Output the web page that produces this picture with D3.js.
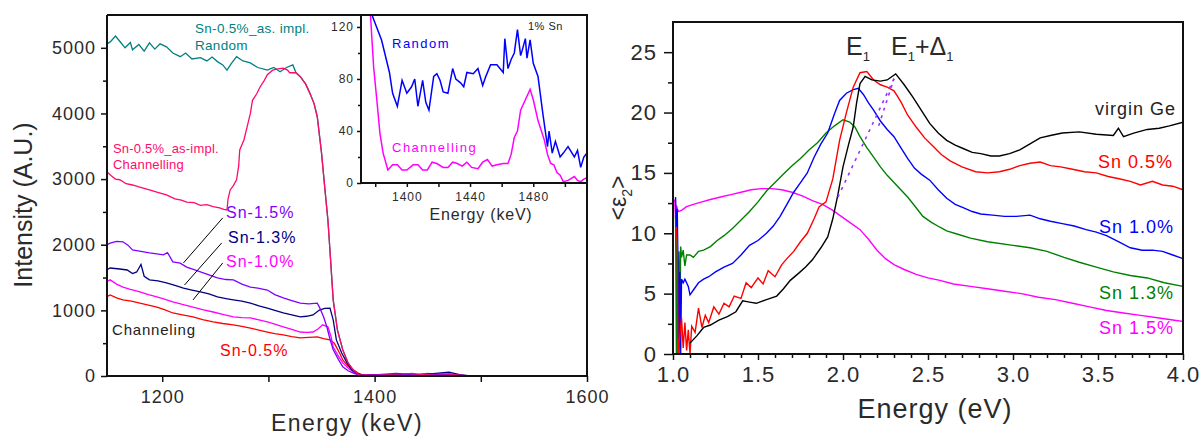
<!DOCTYPE html>
<html>
<head>
<meta charset="utf-8">
<script src="https://cdn.jsdelivr.net/npm/d3@7"></script>
<style>
body{margin:0;background:#fff}
svg text{font-family:Arial,"Liberation Sans",sans-serif}
</style>
</head>
<body>
<svg id="chart" width="1200" height="437"></svg>
<script>
// ---- left panel: RBS spectra, [energy keV, counts] ----
var randomAsImpl = [[1148,5060],[1151,5090],[1156,5180],[1160,5100],[1165,5000],[1170,5080],[1172,4970],[1178,5050],[1183,4950],[1188,5075],[1193,4980],[1198,5060],[1204,5015],[1210,4920],[1217,4865],[1222,4920],[1228,4830],[1236,4850],[1242,4800],[1247,4860],[1252,4790],[1257,4740],[1261,4660],[1265,4760],[1270,4865],[1276,4800],[1283,4770],[1290,4700],[1299,4660],[1305,4700],[1311,4635],[1317,4700],[1323,4740],[1326,4620],[1330,4560],[1335,4450],[1339,4310],[1343,4150],[1346,3950],[1350,3400],[1353,2880],[1356,2380],[1358,1900],[1361,1160],[1365,700],[1370,400],[1375,200],[1380,90],[1386,15],[1395,10],[1410,20],[1420,5],[1430,30],[1440,15],[1450,40],[1460,20],[1470,35],[1480,10],[1492,0]]
var channAsImpl = [[1148,3110],[1152,3050],[1156,3000],[1160,2990],[1166,2930],[1172,2910],[1178,2880],[1183,2860],[1188,2835],[1195,2800],[1204,2760],[1212,2700],[1218,2680],[1223,2650],[1230,2640],[1236,2600],[1242,2610],[1248,2580],[1254,2560],[1258,2540],[1261,2530],[1262,2700],[1264,2835],[1267,2900],[1270,2990],[1272,3200],[1273,3445],[1277,3600],[1280,3800],[1283,4000],[1285,4200],[1289,4300],[1292,4400],[1296,4500],[1299,4590],[1304,4660],[1309,4680],[1314,4690],[1318,4660],[1320,4620],[1326,4620],[1330,4560],[1335,4450],[1339,4310],[1343,4150],[1346,3950],[1350,3400],[1353,2880],[1356,2380],[1358,1900],[1361,1160],[1365,700],[1370,400],[1375,200],[1380,90],[1386,15],[1400,10],[1415,15],[1430,5],[1445,20],[1460,10],[1475,15],[1490,0]]
var chann15 = [[1148,2000],[1151,2025],[1157,2050],[1163,2045],[1168,1990],[1172,1920],[1180,1900],[1188,1875],[1195,1860],[1201,1845],[1205,1880],[1210,1740],[1217,1720],[1223,1660],[1230,1620],[1236,1585],[1244,1540],[1252,1495],[1260,1470],[1267,1465],[1275,1400],[1283,1355],[1290,1340],[1299,1310],[1306,1240],[1314,1190],[1322,1150],[1330,1110],[1338,1100],[1346,1110],[1348,1050],[1352,900],[1355,750],[1358,560],[1361,400],[1366,250],[1370,140],[1375,80],[1380,45],[1386,10],[1400,15],[1420,40],[1440,20],[1460,30],[1480,10],[1490,0]]
var chann13 = [[1148,1620],[1151,1645],[1160,1630],[1167,1615],[1172,1560],[1176,1585],[1180,1700],[1183,1520],[1188,1465],[1196,1450],[1204,1420],[1212,1380],[1220,1340],[1228,1310],[1236,1280],[1244,1250],[1252,1205],[1260,1180],[1267,1160],[1275,1140],[1283,1110],[1291,1070],[1299,1035],[1306,1000],[1314,960],[1322,930],[1330,900],[1336,910],[1342,930],[1348,1005],[1353,1030],[1358,1035],[1361,855],[1364,550],[1369,350],[1374,200],[1378,100],[1383,45],[1390,10],[1410,20],[1430,10],[1450,30],[1470,60],[1480,20],[1490,0]]
var chann10 = [[1148,1440],[1151,1465],[1157,1400],[1163,1355],[1170,1320],[1179,1280],[1187,1240],[1195,1205],[1202,1170],[1210,1130],[1219,1090],[1229,1050],[1238,1010],[1248,975],[1257,940],[1267,900],[1275,890],[1283,885],[1291,855],[1299,825],[1306,790],[1314,750],[1322,710],[1330,670],[1336,665],[1342,670],[1347,720],[1351,780],[1356,750],[1359,600],[1361,440],[1366,300],[1370,200],[1375,120],[1380,60],[1386,15],[1400,20],[1420,10],[1435,40],[1450,15],[1465,30],[1480,10],[1490,0]]
var chann05 = [[1148,1210],[1151,1235],[1157,1190],[1163,1160],[1171,1140],[1179,1110],[1187,1080],[1195,1050],[1202,1010],[1210,960],[1219,930],[1229,900],[1238,860],[1248,825],[1257,800],[1267,780],[1275,755],[1283,730],[1291,700],[1299,670],[1306,645],[1314,625],[1322,600],[1330,580],[1338,590],[1346,595],[1352,570],[1358,550],[1362,500],[1364,440],[1367,350],[1370,245],[1375,150],[1380,90],[1386,30],[1392,5],[1410,15],[1430,10],[1450,20],[1470,15],[1490,0]]
// leader lines from the labels to the curves, [[keV,counts],[keV,counts]]
var leaders = [[[1257,2409],[1220,1723]],[[1256,2027],[1221,1387]],[[1257,1723],[1229,1159]]]
var leftXTicks = [1200,1400,1600]
var leftXMinor = [1300,1500]
var leftYTicks = [0,1000,2000,3000,4000,5000]
var leftYMinor = [500,1500,2500,3500,4500]

// ---- inset: 1% Sn, Sn signal region ----
var insetRandom = [[1378,129],[1384,110],[1386,100],[1389,85],[1391,69],[1394,59],[1397,79],[1400,69],[1403,74],[1405,80],[1407,59],[1410,79],[1412,62],[1414,56],[1417,82],[1419,84],[1421,79],[1423,70],[1426,69],[1429,88],[1431,80],[1434,77],[1436,74],[1438,85],[1442,84],[1445,88],[1448,75],[1450,82],[1453,91],[1457,91],[1461,85],[1462,111],[1464,88],[1466,95],[1468,100],[1470,118],[1472,98],[1473,102],[1475,111],[1476,96],[1478,110],[1480,92],[1483,82],[1486,54],[1489,28],[1490,40],[1492,23],[1494,32],[1495,28],[1497,20],[1499,23],[1502,28],[1506,20],[1508,25],[1510,12],[1512,20],[1514,23]]
var insetChann = [[1377,129],[1379,89],[1381,64],[1383,38],[1385,23],[1388,10],[1391,14],[1394,14],[1397,10],[1400,10],[1404,14],[1407,14],[1410,10],[1413,10],[1416,16],[1419,15],[1423,12],[1426,12],[1429,16],[1432,15],[1435,13],[1438,16],[1441,12],[1445,11],[1448,16],[1451,18],[1454,13],[1457,14],[1461,15],[1464,15],[1466,22],[1468,35],[1470,40],[1472,56],[1475,64],[1478,72],[1480,64],[1483,48],[1487,33],[1489,22],[1491,15],[1493,14],[1495,8],[1497,6],[1499,1],[1502,2],[1506,5],[1508,2],[1510,1],[1512,3],[1514,4]]
var insetXTicks = [1400,1440,1480]
var insetXMinor = [1380,1420,1460,1500]
var insetYTicks = [0,40,80,120]
var insetYMinor = [20,60,100]

// ---- right panel: <eps2> vs photon energy, [eV, value] ----
var virginGe = [[1.10,0.9],[1.14,1.5],[1.18,2.2],[1.22,2.4],[1.27,2.8],[1.32,3.1],[1.37,3.5],[1.41,4.4],[1.45,4.3],[1.49,4.2],[1.55,4.5],[1.61,4.8],[1.65,5.4],[1.69,6.1],[1.74,6.7],[1.78,7.2],[1.82,7.8],[1.87,8.8],[1.91,9.7],[1.94,11.2],[1.97,13.2],[2.00,15.5],[2.03,17.2],[2.06,18.8],[2.08,20.8],[2.10,22.4],[2.13,23.0],[2.17,22.7],[2.22,22.6],[2.26,22.7],[2.31,23.2],[2.36,22.3],[2.41,21.3],[2.46,20.2],[2.51,19.1],[2.56,18.3],[2.61,17.7],[2.66,17.3],[2.71,17.0],[2.76,16.7],[2.81,16.6],[2.87,16.4],[2.92,16.4],[2.98,16.6],[3.04,16.9],[3.10,17.4],[3.16,17.9],[3.22,18.1],[3.29,18.3],[3.39,18.4],[3.49,18.2],[3.59,18.1],[3.62,18.7],[3.65,18.0],[3.71,18.3],[3.79,18.6],[3.86,18.7],[3.92,18.9],[4.0,19.2]]
var sn05 = [[1.02,10.5],[1.025,9.2],[1.03,0],[1.05,3.0],[1.06,0.5],[1.07,2.6],[1.08,0.3],[1.09,2.0],[1.10,0],[1.11,2.3],[1.13,1.8],[1.15,3.8],[1.17,2.2],[1.19,3.2],[1.21,2.6],[1.24,3.9],[1.27,3.3],[1.30,4.2],[1.33,3.9],[1.36,4.8],[1.40,4.6],[1.43,5.9],[1.46,5.5],[1.50,6.3],[1.53,5.8],[1.56,6.9],[1.60,6.4],[1.64,7.4],[1.67,7.9],[1.71,8.5],[1.75,9.3],[1.79,10.0],[1.83,11.2],[1.86,12.2],[1.90,12.6],[1.94,14.5],[1.98,17.7],[2.02,20.0],[2.06,22.1],[2.10,23.3],[2.14,23.4],[2.18,22.7],[2.22,22.3],[2.26,22.1],[2.30,21.8],[2.34,20.9],[2.38,19.8],[2.43,18.8],[2.48,17.9],[2.53,17.2],[2.58,16.5],[2.63,16.0],[2.70,15.5],[2.78,15.1],[2.85,15.0],[2.92,15.1],[2.98,15.3],[3.04,15.6],[3.10,15.8],[3.16,15.9],[3.22,15.6],[3.28,15.5],[3.35,15.3],[3.42,15.1],[3.49,15.0],[3.56,14.7],[3.63,14.5],[3.69,14.3],[3.75,14.0],[3.82,14.3],[3.88,14.0],[3.94,13.9],[4.0,13.6]]
var sn10 = [[1.015,13.0],[1.02,10.5],[1.025,12],[1.03,6.5],[1.035,0],[1.04,6.8],[1.045,0],[1.05,6.2],[1.06,5.9],[1.07,6.2],[1.09,5.6],[1.10,4.9],[1.12,5.3],[1.15,5.9],[1.18,6.2],[1.21,6.4],[1.25,6.8],[1.30,7.2],[1.35,7.5],[1.40,8.2],[1.45,9.0],[1.50,9.4],[1.55,10.0],[1.59,10.6],[1.63,11.4],[1.67,12.4],[1.71,13.4],[1.75,14.2],[1.79,15.0],[1.83,16.3],[1.87,17.4],[1.91,18.3],[1.95,19.9],[1.98,21.0],[2.02,21.6],[2.06,21.9],[2.09,22.0],[2.12,21.5],[2.15,20.8],[2.18,20.2],[2.22,19.3],[2.26,18.6],[2.30,18.0],[2.34,17.1],[2.38,16.2],[2.42,15.4],[2.46,14.9],[2.51,14.4],[2.56,13.6],[2.61,12.9],[2.66,12.4],[2.71,12.1],[2.76,11.8],[2.81,11.6],[2.88,11.5],[2.95,11.4],[3.02,11.4],[3.10,11.5],[3.16,11.2],[3.22,11.0],[3.29,10.8],[3.36,10.6],[3.43,10.3],[3.49,10.1],[3.55,9.8],[3.62,9.3],[3.69,8.8],[3.76,8.6],[3.82,8.6],[3.88,8.5],[3.94,8.2],[4.0,7.9]]
var sn13 = [[1.015,11.5],[1.02,0],[1.025,10],[1.03,0],[1.035,8.5],[1.04,2],[1.045,8.9],[1.05,8.0],[1.06,8.6],[1.07,7.3],[1.08,8.2],[1.10,8.2],[1.12,8.0],[1.15,8.5],[1.18,8.6],[1.22,8.9],[1.26,9.4],[1.30,9.8],[1.35,10.4],[1.40,11.1],[1.45,11.8],[1.50,12.6],[1.55,13.5],[1.60,14.2],[1.65,14.9],[1.70,15.6],[1.75,16.2],[1.80,16.9],[1.85,17.5],[1.90,18.3],[1.95,18.9],[2.00,19.4],[2.04,19.2],[2.07,18.8],[2.10,18.0],[2.14,17.1],[2.18,16.3],[2.22,15.5],[2.26,14.8],[2.30,14.2],[2.34,13.6],[2.38,13.0],[2.42,12.3],[2.47,11.4],[2.52,10.9],[2.57,10.5],[2.61,10.2],[2.68,9.9],[2.75,9.6],[2.85,9.3],[3.0,9.0],[3.10,8.8],[3.20,8.5],[3.30,8.0],[3.39,7.6],[3.49,7.2],[3.59,6.8],[3.69,6.5],[3.79,6.3],[3.89,5.9],[4.0,5.6]]
var sn15 = [[1.01,12.8],[1.015,11.2],[1.02,12.3],[1.03,11.8],[1.05,11.9],[1.08,12.2],[1.12,12.4],[1.17,12.6],[1.22,12.8],[1.28,13.0],[1.34,13.2],[1.40,13.4],[1.46,13.6],[1.52,13.7],[1.58,13.7],[1.64,13.6],[1.70,13.4],[1.76,13.1],[1.82,12.7],[1.88,12.4],[1.94,11.9],[2.00,11.3],[2.05,10.8],[2.10,10.3],[2.15,9.5],[2.20,8.6],[2.25,7.9],[2.30,7.4],[2.36,7.0],[2.43,6.6],[2.50,6.3],[2.57,6.1],[2.65,5.8],[2.75,5.6],[2.85,5.4],[2.95,5.2],[3.05,5.0],[3.15,4.7],[3.25,4.5],[3.35,4.2],[3.45,3.9],[3.55,3.6],[3.65,3.4],[3.75,3.2],[3.85,3.0],[3.95,2.8],[4.0,2.7]]
// dotted guides from E1 to E1+D1
var guides = [[[1.97,13.0],[2.31,23.1]],[[2.21,18.9],[2.30,22.8]]]
var rightXTicks = [1.0,1.5,2.0,2.5,3.0,3.5,4.0]
var rightXMinor = [1.1,1.2,1.3,1.4,1.6,1.7,1.8,1.9,2.1,2.2,2.3,2.4,2.6,2.7,2.8,2.9,3.1,3.2,3.3,3.4,3.6,3.7,3.8,3.9]
var rightYTicks = [0,5,10,15,20,25]
var rightYMinor = [2.5,7.5,12.5,17.5,22.5]

var rightNames = ['virgin Ge','Sn 0.5%','Sn 1.0%','Sn 1.3%','Sn 1.5%']
var leftNames = ['Sn-1.5%','Sn-1.3%','Sn-1.0%','Channeling','Sn-0.5%']

var svg = d3.select('#chart')

function axis(g, gen, scale, ticks, minors, size, msize, pad, fsize, fmt){
	var a = g.append('g').call(gen(scale).tickValues(ticks).tickSize(size).tickPadding(pad).tickFormat(fmt))
	a.select('.domain').remove()
	a.selectAll('line').attr('stroke','#111').attr('stroke-width',1.5)
	a.selectAll('text').attr('fill','#2a2a2a').style('font-size',fsize+'px').style('letter-spacing','1px')
	var m = g.append('g').call(gen(scale).tickValues(minors).tickSize(msize).tickFormat(''))
	m.select('.domain').remove()
	m.selectAll('line').attr('stroke','#111').attr('stroke-width',1.5)
	return a
}

function label(g, x, y, txt, color, size, ls){
	return g.append('text').attr('x',x).attr('y',y).text(txt)
		.attr('fill',color).style('font-size',size+'px').style('letter-spacing',(ls||0)+'px')
}

// ================= left panel =================
var lx = d3.scaleLinear().domain([1148,1600]).range([107,587])
var ly = d3.scaleLinear().domain([0,5500]).range([376,15])
var L = svg.append('g')

svg.append('clipPath').attr('id','clipL').append('rect')
	.attr('x',107).attr('y',15).attr('width',480).attr('height',361)

var lline = d3.line().x(function(d){return lx(d[0])}).y(function(d){return ly(d[1])})
var leftSeries = [
	[randomAsImpl,'#008080'],
	[chann05,'#ff0000'],
	[chann10,'#ff00ff'],
	[chann13,'#000080'],
	[chann15,'#8000ff'],
	[channAsImpl,'#ff0a6c']
]
L.append('g').attr('clip-path','url(#clipL)').selectAll('path')
	.data(leftSeries).enter().append('path')
	.attr('d',function(d){return lline(d[0])})
	.attr('fill','none').attr('stroke',function(d){return d[1]}).attr('stroke-width',1.3)

L.selectAll('line.leader').data(leaders).enter().append('line').attr('class','leader')
	.attr('x1',function(d){return lx(d[0][0])}).attr('y1',function(d){return ly(d[0][1])})
	.attr('x2',function(d){return lx(d[1][0])}).attr('y2',function(d){return ly(d[1][1])})
	.attr('stroke','#000').attr('stroke-width',1)

axis(L.append('g').attr('transform','translate(0,376)'), d3.axisBottom, lx, leftXTicks, leftXMinor, 6, 6, 8, 18, d3.format('d'))
axis(L.append('g').attr('transform','translate(107,0)'), d3.axisLeft, ly, leftYTicks, leftYMinor, 6, 4, 5, 18, d3.format('d'))
// frame
L.append('path').attr('d','M107,15V376H587V15H107').attr('fill','none').attr('stroke','#111').attr('stroke-width',2)

label(L,195,33,'Sn-0.5%_as. impl.','#008080',13.5,0.3)
label(L,195,50,'Random','#008080',13.5,0.3)
label(L,113,153,'Sn-0.5%_as-impl.','#ff0a6c',13,0.2)
label(L,113,169,'Channelling','#ff0a6c',13,0.2)
label(L,226,218,leftNames[0],'#8000ff',16,1)
label(L,228,243,leftNames[1],'#000080',16,1)
label(L,226,267,leftNames[2],'#ff00ff',16,1)
label(L,112,335,leftNames[3],'#222',15,0.8)
label(L,220,356,leftNames[4],'#ff0000',16,1)

L.append('text').attr('transform','translate(32,205) rotate(-90)').attr('text-anchor','middle')
	.text('Intensity (A.U.)').attr('fill','#2a2a2a').style('font-size','25px')
L.append('text').attr('x',347).attr('y',431).attr('text-anchor','middle')
	.text('Energy (keV)').attr('fill','#2a2a2a').style('font-size','23px').style('letter-spacing','1.5px')

// ================= inset =================
var ix = d3.scaleLinear().domain([1371,1514]).range([361,587])
var iy = d3.scaleLinear().domain([0,129.2]).range([183,15])
var I = svg.append('g')
I.append('rect').attr('x',361).attr('y',15).attr('width',226).attr('height',168).attr('fill','#fff')
svg.append('clipPath').attr('id','clipI').append('rect')
	.attr('x',361).attr('y',15).attr('width',226).attr('height',168)
var iline = d3.line().x(function(d){return ix(d[0])}).y(function(d){return iy(d[1])})
I.append('g').attr('clip-path','url(#clipI)').selectAll('path')
	.data([[insetRandom,'#0000ff'],[insetChann,'#ff00ff']]).enter().append('path')
	.attr('d',function(d){return iline(d[0])})
	.attr('fill','none').attr('stroke',function(d){return d[1]}).attr('stroke-width',1.5)
axis(I.append('g').attr('transform','translate(0,183)'), d3.axisBottom, ix, insetXTicks, insetXMinor, 4, 4, 5, 12, d3.format('d'))
axis(I.append('g').attr('transform','translate(361,0)'), d3.axisLeft, iy, insetYTicks, insetYMinor, 4, 3, 3, 12, d3.format('d'))
I.append('path').attr('d','M361,15V183H587V15H361').attr('fill','none').attr('stroke','#111').attr('stroke-width',2)
label(I,528,30,'1% Sn','#222',11,0.5)
label(I,392,48,'Random','#0000ff',13,1.5)
label(I,392,152,'Channelling','#ff00ff',13,1.5)
I.append('text').attr('x',481).attr('y',220).attr('text-anchor','middle')
	.text('Energy (keV)').attr('fill','#2a2a2a').style('font-size','16px').style('letter-spacing','0.8px')

// ================= right panel =================
var rx = d3.scaleLinear().domain([1,4]).range([673,1183])
var ry = d3.scaleLinear().domain([0,27.5]).range([354,22])
var R = svg.append('g')
svg.append('clipPath').attr('id','clipR').append('rect')
	.attr('x',673).attr('y',22).attr('width',510).attr('height',332)
var rline = d3.line().x(function(d){return rx(d[0])}).y(function(d){return ry(d[1])})
var rightSeries = [
	[sn15,'#ff00ff'],
	[sn13,'#008000'],
	[sn10,'#0000ff'],
	[sn05,'#ff0000'],
	[virginGe,'#000000']
]
var RC = R.append('g').attr('clip-path','url(#clipR)')
RC.selectAll('path.s').data(rightSeries).enter().append('path').attr('class','s')
	.attr('d',function(d){return rline(d[0])})
	.attr('fill','none').attr('stroke',function(d){return d[1]}).attr('stroke-width',1.4)
RC.selectAll('line.g').data(guides).enter().append('line').attr('class','g')
	.attr('x1',function(d){return rx(d[0][0])}).attr('y1',function(d){return ry(d[0][1])})
	.attr('x2',function(d){return rx(d[1][0])}).attr('y2',function(d){return ry(d[1][1])})
	.attr('stroke','#9933ff').attr('stroke-width',1.6).attr('stroke-dasharray','3,5')

axis(R.append('g').attr('transform','translate(0,354)'), d3.axisBottom, rx, rightXTicks, rightXMinor, 6, 4, 6, 22, d3.format('.1f'))
axis(R.append('g').attr('transform','translate(673,0)'), d3.axisLeft, ry, rightYTicks, rightYMinor, 9, 5, 7, 22, d3.format('d'))
R.append('rect').attr('x',673).attr('y',22).attr('width',510).attr('height',332)
	.attr('fill','none').attr('stroke','#111').attr('stroke-width',2)

var rcol = ['#222','#ff0000','#0000ff','#008000','#ff00ff']
var rpos = [[1095,115],[1098,168],[1099,233],[1099,299],[1099,334]]
rightNames.forEach(function(n,i){ label(R,rpos[i][0],rpos[i][1],n,rcol[i],18,1) })

var e1 = R.append('text').attr('x',846).attr('y',55).attr('fill','#2a2a2a').style('font-size','25px')
e1.append('tspan').text('E')
e1.append('tspan').attr('dy',6).style('font-size','13px').text('1')
var e2 = R.append('text').attr('x',891).attr('y',55).attr('fill','#2a2a2a').style('font-size','25px')
e2.append('tspan').text('E')
e2.append('tspan').attr('dy',6).style('font-size','13px').text('1')
e2.append('tspan').attr('dy',-6).text('+Δ')
e2.append('tspan').attr('dy',6).style('font-size','13px').text('1')

var yl = R.append('text').attr('transform','translate(626,198) rotate(-90)').attr('text-anchor','middle')
	.attr('fill','#2a2a2a').style('font-size','23px')
yl.append('tspan').text('<ε')
yl.append('tspan').attr('dy',6).style('font-size','14px').text('2')
yl.append('tspan').attr('dy',-6).text('>')

R.append('text').attr('x',935).attr('y',418).attr('text-anchor','middle')
	.text('Energy (eV)').attr('fill','#2a2a2a').style('font-size','27px').style('letter-spacing','1px')
</script>
</body>
</html>
